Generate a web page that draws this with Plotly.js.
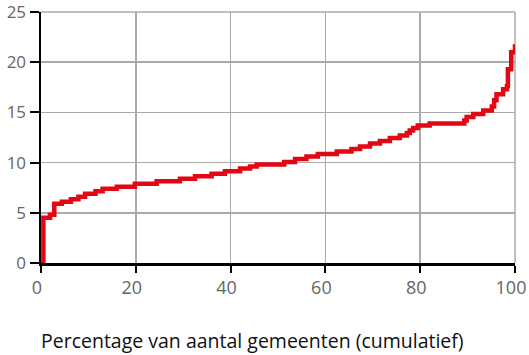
<!DOCTYPE html>
<html>
<head>
<meta charset="utf-8">
<script src="https://cdn.plot.ly/plotly-3.0.1.min.js"></script>
<style>html,body{margin:0;padding:0;background:#fff;}#chart{width:529px;height:355px;}</style>
</head>
<body>
<div id="chart"></div>
<script>
// Cumulative percentage of municipalities (x) vs value (y), step line
const pctGemeenten = [0, 0.5, 1.9, 2.8, 4.4, 6.3, 7.9, 9.3, 11.5, 13, 16, 19.8, 24.4, 29.3, 32.5, 36, 38.8, 42, 44.1, 45.5, 51.3, 53.6, 56, 58.4, 62.4, 65.5, 67.3, 69.4, 71.5, 73.6, 75.7, 77.2, 77.8, 78.5, 79.5, 82, 89.3, 89.8, 91.2, 93.3, 95.1, 95.6, 96.1, 97.5, 98.3, 98.5, 99.2, 100];
const waarde = [0, 4.5, 4.8, 5.9, 6.1, 6.35, 6.6, 6.9, 7.15, 7.4, 7.6, 7.9, 8.15, 8.4, 8.65, 8.9, 9.15, 9.4, 9.6, 9.8, 10.05, 10.35, 10.6, 10.85, 11.1, 11.35, 11.6, 11.9, 12.15, 12.45, 12.7, 12.95, 13.2, 13.45, 13.7, 13.9, 14.2, 14.55, 14.85, 15.2, 15.6, 16.2, 16.8, 17.3, 17.6, 19.3, 21.0, 21.8];
const xTicks = [0, 20, 40, 60, 80, 100];
const yTicks = [0, 5, 10, 15, 20, 25];
const xTitle = 'Percentage van aantal gemeenten (cumulatief)';

const fontFam = 'Open Sans, sans-serif';
const trace = {
  x: pctGemeenten, y: waarde, type: 'scatter', mode: 'lines',
  line: {color: 'rgb(227,6,19)', width: 4.5, shape: 'hv'},
  cliponaxis: false, hoverinfo: 'skip'
};
const axisCommon = {
  showgrid: true, gridcolor: '#aaa', gridwidth: 1.5,
  showline: true, linecolor: '#000', linewidth: 2.5,
  ticks: 'outside', tickwidth: 2, tickcolor: '#000',
  zeroline: false, fixedrange: true, ticklabeloverflow: 'allow'
};
const layout = {
  width: 529, height: 355,
  margin: {l: 41, r: 14, t: 12, b: 92},
  paper_bgcolor: '#fff', plot_bgcolor: '#fff',
  showlegend: false,
  font: {family: fontFam, size: 18, color: '#666'},
  xaxis: Object.assign({}, axisCommon, {
    range: [0, 100], tickvals: xTicks, ticktext: xTicks.map(String),
    ticklen: 7, ticklabelshift: -4,
    tickfont: {family: fontFam, size: 18, color: '#666'}
  }),
  yaxis: Object.assign({}, axisCommon, {
    range: [0, 25], tickvals: yTicks, ticktext: yTicks.map(String),
    ticklen: 9,
    tickfont: {family: fontFam, size: 17, color: '#666'}
  }),
  shapes: [
    {type: 'line', xref: 'paper', yref: 'paper', x0: 1, x1: 1, y0: 0, y1: 1, line: {color: '#aaa', width: 1.5}, layer: 'below'},
    {type: 'line', xref: 'paper', yref: 'paper', x0: 0, x1: 1, y0: 1, y1: 1, line: {color: '#aaa', width: 1.5}, layer: 'below'}
  ],
  annotations: [{
    text: xTitle, xref: 'paper', yref: 'paper',
    x: (252 - 41) / 474, y: (263 - 340) / 251,
    xanchor: 'center', yanchor: 'middle', showarrow: false,
    font: {family: fontFam, size: 19.5, color: '#111'}
  }]
};
Plotly.newPlot('chart', [trace], layout, {displayModeBar: false, staticPlot: true});
</script>
</body>
</html>
